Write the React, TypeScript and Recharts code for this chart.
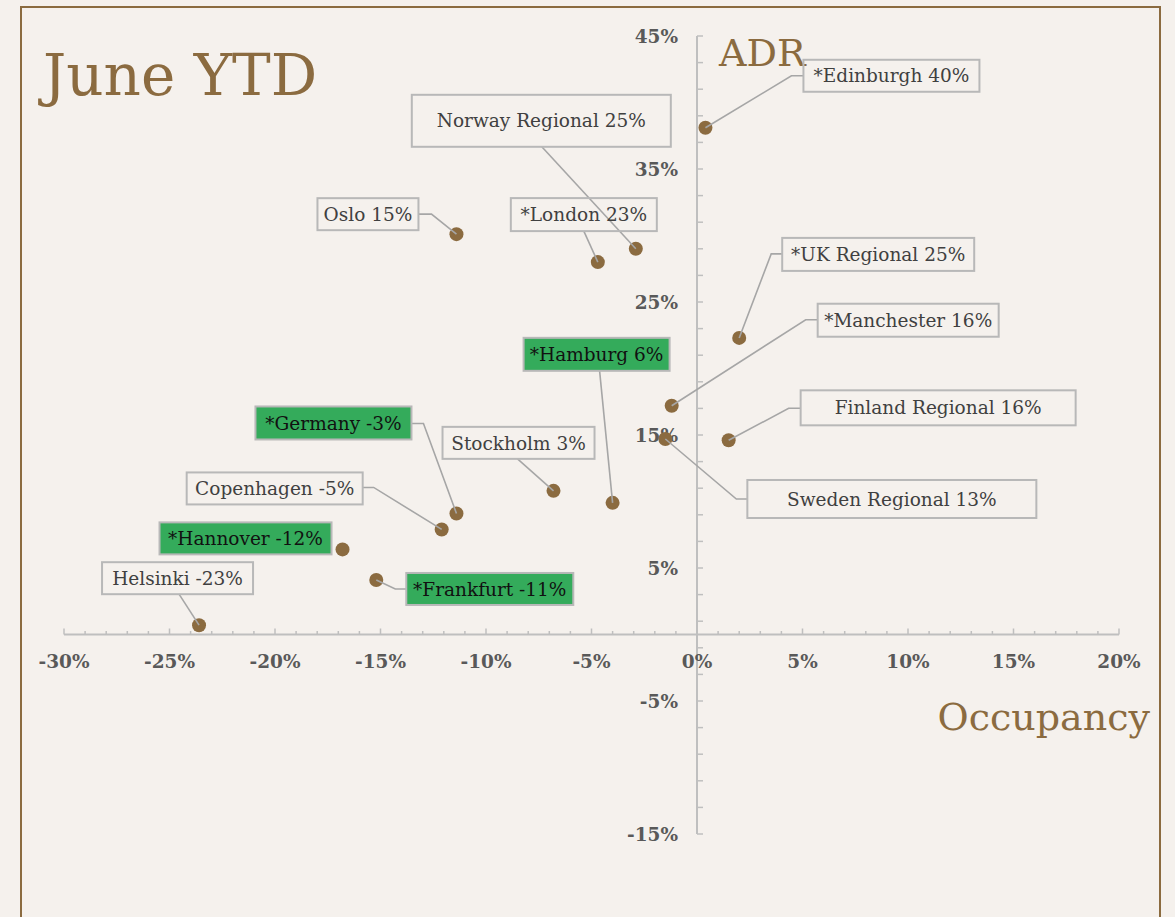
import React from 'react';
import { ScatterChart, Scatter, XAxis, YAxis, ReferenceLine, ReferenceDot } from 'recharts';

// ---------- data ----------
const markets = [
  '*Edinburgh', 'Norway Regional', '*London', 'Oslo', '*UK Regional', '*Manchester',
  'Finland Regional', 'Sweden Regional', '*Hamburg', '*Germany', 'Stockholm',
  'Copenhagen', '*Hannover', 'Helsinki', '*Frankfurt',
];
const occupancyChange = [0.4, -2.9, -4.7, -11.4, 2.0, -1.2, 1.5, -1.5, -4.0, -11.4, -6.8, -12.1, -16.8, -23.6, -15.2];
const adrChange = [38.1, 29.0, 28.0, 30.1, 22.3, 17.2, 14.6, 14.7, 9.9, 9.1, 10.8, 7.9, 6.4, 0.7, 4.1];
const revparLabels = ['40%', '25%', '23%', '15%', '25%', '16%', '16%', '13%', '6%', '-3%', '3%', '-5%', '-12%', '-23%', '-11%'];
const highlightedMarkets = ['*Hamburg', '*Germany', '*Hannover', '*Frankfurt'];

const xLabelTicks = [-30, -25, -20, -15, -10, -5, 0, 5, 10, 15, 20];
const xMinorTicks = Array.from({ length: 51 }, (_, i) => i - 30);
const yLabelTicks = [45, 35, 25, 15, 5, -5, -15];
const yMinorTicks = Array.from({ length: 31 }, (_, i) => -15 + i * 2);

// ---------- layout / style (not data) ----------
const CALLOUTS: Record<string, { box: [number, number, number, number]; path: [number, number][] }> = {
  '*Edinburgh': { box: [98, -68, 176, 32], path: [[0, 0], [86, -52], [98, -52]] },
  'Norway Regional': { box: [-224, -154, 259, 52], path: [[0, 0], [-94, -102]] },
  '*London': { box: [-87, -64, 146, 33], path: [[0, 0], [-14, -31]] },
  'Oslo': { box: [-139, -36, 101, 32], path: [[0, 0], [-25, -20], [-38, -20]] },
  '*UK Regional': { box: [43, -100, 192, 33], path: [[0, 0], [32, -84], [43, -84]] },
  '*Manchester': { box: [146, -102, 181, 33], path: [[0, 0], [134, -86], [146, -86]] },
  'Finland Regional': { box: [72, -50, 275, 35], path: [[0, 0], [60, -32], [72, -32]] },
  'Sweden Regional': { box: [82, 41, 289, 38], path: [[0, 0], [71, 60], [82, 60]] },
  '*Hamburg': { box: [-89, -165, 146, 33], path: [[0, 0], [-13, -132]] },
  '*Germany': { box: [-201, -107, 156, 33], path: [[0, 0], [-33, -90], [-45, -90]] },
  'Stockholm': { box: [-111, -64, 152, 32], path: [[0, 0], [-36, -32]] },
  'Copenhagen': { box: [-255, -57, 176, 32], path: [[0, 0], [-68, -42], [-79, -42]] },
  '*Hannover': { box: [-183, -27, 172, 32], path: [] },
  'Helsinki': { box: [-97, -63, 151, 32], path: [[0, 0], [-20, -31]] },
  '*Frankfurt': { box: [30, -7, 167, 32], path: [[0, 0], [19, 9], [30, 9]] },
};

const BG = '#F5F1ED';
const BROWN = '#8B6B40';
const AXIS = '#BFBFBF';
const GREEN = '#34AB5B';
const FONT = '"DejaVu Serif", serif';

const points = markets.map((name, i) => ({
  x: occupancyChange[i],
  y: adrChange[i],
  name,
  label: revparLabels[i],
  highlight: highlightedMarkets.includes(name),
}));

const Dot = (props: any) => {
  const { cx, cy } = props;
  if (cx == null || cy == null) return null;
  return <circle cx={cx} cy={cy} r={7} fill={BROWN} />;
};

const Callout = (props: any) => {
  const { cx, cy, payload } = props;
  if (cx == null || cy == null || !payload) return null;
  const cfg = CALLOUTS[payload.name];
  if (!cfg) return null;
  const [bx, by, bw, bh] = cfg.box;
  const pts = cfg.path.map(([px, py]) => `${cx + px},${cy + py}`).join(' ');
  return (
    <g>
      {cfg.path.length > 1 && (
        <polyline points={pts} fill="none" stroke="#A6A6A6" strokeWidth={1.6} />
      )}
      <rect
        x={cx + bx}
        y={cy + by}
        width={bw}
        height={bh}
        fill={payload.highlight ? GREEN : BG}
        fillOpacity={payload.highlight ? 1 : 0}
        stroke="#B8B8B8"
        strokeWidth={2}
      />
      <text
        x={cx + bx + bw / 2}
        y={cy + by + bh / 2}
        dy="0.36em"
        textAnchor="middle"
        fontFamily={FONT}
        fontSize={18.5}
        fill={payload.highlight ? '#111111' : '#404040'}
      >
        {`${payload.name} ${payload.label}`}
      </text>
    </g>
  );
};

const XTick = (v: number) => (props: any) => {
  const { cx, cy } = props;
  if (cx == null || cy == null) return null;
  const major = v % 5 === 0;
  return (
    <g>
      <line x1={cx} y1={cy} x2={cx} y2={cy - (major ? 6 : 3.5)} stroke={AXIS} strokeWidth={1.5} />
      {xLabelTicks.includes(v) && (
        <text x={cx} y={cy + 33} textAnchor="middle" fontFamily={FONT} fontWeight="bold" fontSize={18.5} fill="#595959">
          {`${v}%`}
        </text>
      )}
    </g>
  );
};

const YTick = (v: number) => (props: any) => {
  const { cx, cy } = props;
  if (cx == null || cy == null) return null;
  return (
    <g>
      <line x1={cx} y1={cy} x2={cx + 6} y2={cy} stroke={AXIS} strokeWidth={1.5} />
      {yLabelTicks.includes(v) && (
        <text x={cx - 19} y={cy} dy="0.36em" textAnchor="end" fontFamily={FONT} fontWeight="bold" fontSize={18.5} fill="#595959">
          {`${v}%`}
        </text>
      )}
    </g>
  );
};

export default function App() {
  return (
    <div style={{ position: 'absolute', left: 0, top: 0, width: 1175, height: 917, background: BG, overflow: 'hidden' }}>
      <div
        style={{
          position: 'absolute', left: 20, top: 6, width: 1141, height: 1000,
          border: `2px solid ${BROWN}`, boxSizing: 'border-box',
        }}
      />
      <div style={{ position: 'absolute', left: 43, top: 92, transform: 'translateY(-80%)', fontFamily: FONT, fontSize: 58, color: BROWN, lineHeight: 1, whiteSpace: 'nowrap' }}>
        June YTD
      </div>
      <div style={{ position: 'absolute', left: 719, top: 64, transform: 'translateY(-80%)', fontFamily: FONT, fontSize: 38, color: BROWN, lineHeight: 1, whiteSpace: 'nowrap' }}>
        ADR
      </div>
      <div style={{ position: 'absolute', right: 1175 - 1150, top: 728, transform: 'translateY(-80%)', fontFamily: FONT, fontSize: 38, color: BROWN, lineHeight: 1, whiteSpace: 'nowrap' }}>
        Occupancy
      </div>
      <div style={{ position: 'absolute', left: 0, top: 0 }}>
        <ScatterChart width={1175} height={917} margin={{ top: 36, right: 56, bottom: 83, left: 64 }}>
          <XAxis type="number" dataKey="x" domain={[-30, 20]} hide allowDataOverflow />
          <YAxis type="number" dataKey="y" domain={[-15, 45]} hide allowDataOverflow />
          <ReferenceLine y={0} stroke={AXIS} strokeWidth={2} />
          <ReferenceLine x={0} stroke={AXIS} strokeWidth={2} />
          {xMinorTicks.map((v) => (
            <ReferenceDot key={`xt${v}`} x={v} y={0} r={0} shape={XTick(v)} />
          ))}
          {yMinorTicks.map((v) => (
            <ReferenceDot key={`yt${v}`} x={0} y={v} r={0} shape={YTick(v)} />
          ))}
          <Scatter data={points} shape={Dot} isAnimationActive={false} />
          <Scatter data={points} shape={Callout} isAnimationActive={false} />
        </ScatterChart>
      </div>
    </div>
  );
}
